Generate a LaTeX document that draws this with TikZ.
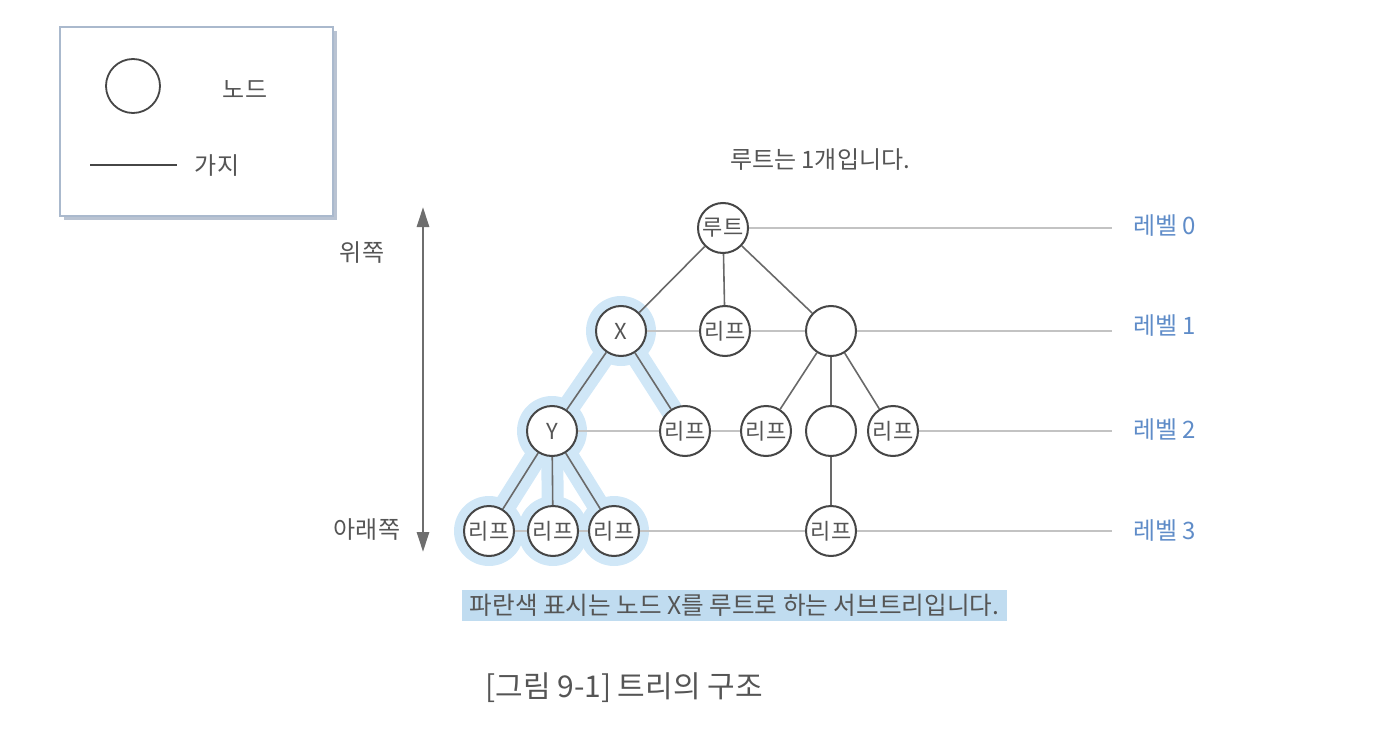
\documentclass[tikz,border=0pt]{standalone}
\usepackage{fontspec}
\setmainfont{Noto Sans CJK KR}
\usetikzlibrary{arrows.meta,calc,backgrounds}
\definecolor{txt}{RGB}{85,85,85}
\definecolor{nodeline}{RGB}{70,70,70}
\definecolor{edgec}{RGB}{105,105,105}
\definecolor{lvlc}{RGB}{195,195,195}
\definecolor{lvblue}{RGB}{95,140,200}
\definecolor{hlc}{RGB}{208,231,247}
\definecolor{capbg}{RGB}{192,220,240}
\definecolor{boxline}{RGB}{170,185,205}
\definecolor{boxshadow}{RGB}{185,195,210}
\definecolor{arrowc}{RGB}{110,110,110}
\begin{document}
\begin{tikzpicture}[x=0.5pt,y=-0.5pt,
  font=\fontsize{12}{14}\selectfont,
  tnode/.style={circle, draw=nodeline, line width=1pt, fill=white, minimum size=25pt, inner sep=0pt, text=txt, font=\fontsize{11}{13}\selectfont},
  treeedge/.style={draw=edgec, line width=0.8pt},
  lvlline/.style={draw=lvlc, line width=0.6pt},
  hlband/.style={draw=hlc, line width=11pt},
  lbl/.style={text=txt, inner sep=0pt},
  lvllbl/.style={text=lvblue, anchor=west, inner sep=0pt}]
\useasboundingbox (0,0) rectangle (1376,749);

% legend
\fill[boxshadow] (64,31) rectangle (337,220);
\filldraw[draw=boxline, fill=white, line width=1pt] (60,27) rectangle (333,216);
\node[circle, draw=nodeline, line width=0.9pt, minimum size=27pt, inner sep=0pt] (lgnode) at (133,86) {};
\node[lbl] (lgnodetxt) at (245,89) {노드};
\coordinate (lgA) at (90,165);
\coordinate (lgB) at (177,165);
\draw[draw=nodeline, line width=0.7pt] (lgA) -- (lgB);
\node[lbl] (lgedgetxt) at (217,166) {가지};

% tree nodes
\node[tnode] (R) at (723,228) {루트};
\node[tnode] (X) at (621,331) {X};
\node[tnode] (L1) at (725,331) {리프};
\node[tnode] (E1) at (831,331) {};
\node[tnode] (Y) at (552,431) {Y};
\node[tnode] (L2a) at (685,431) {리프};
\node[tnode] (L2b) at (766,431) {리프};
\node[tnode] (E2) at (831,431) {};
\node[tnode] (L2c) at (893,431) {리프};
\node[tnode] (L3a) at (489,531) {리프};
\node[tnode] (L3b) at (553,531) {리프};
\node[tnode] (L3c) at (614,531) {리프};
\node[tnode] (L3d) at (831,531) {리프};

% level line ends
\coordinate (lv0) at (1112,228);
\coordinate (lv1) at (1112,331);
\coordinate (lv2) at (1112,431);
\coordinate (lv3) at (1112,531);

% edges
\draw[treeedge] (R) -- (X);
\draw[treeedge] (R) -- (L1);
\draw[treeedge] (R) -- (E1);
\draw[treeedge] (X) -- (Y);
\draw[treeedge] (X) -- (L2a);
\draw[treeedge] (E1) -- (L2b);
\draw[treeedge] (E1) -- (E2);
\draw[treeedge] (E1) -- (L2c);
\draw[treeedge] (Y) -- (L3a);
\draw[treeedge] (Y) -- (L3b);
\draw[treeedge] (Y) -- (L3c);
\draw[treeedge] (E2) -- (L3d);

% level lines
\draw[lvlline] (R) -- (lv0);
\draw[lvlline] (X) -- (L1);
\draw[lvlline] (L1) -- (E1);
\draw[lvlline] (E1) -- (lv1);
\draw[lvlline] (Y) -- (L2a);
\draw[lvlline] (L2a) -- (L2b);
\draw[lvlline] (L2c) -- (lv2);
\draw[lvlline] (L3a) -- (L3b);
\draw[lvlline] (L3b) -- (L3c);
\draw[lvlline] (L3c) -- (L3d);
\draw[lvlline] (L3d) -- (lv3);

% subtree highlight
\begin{scope}[on background layer]
  \foreach \n in {X,Y,L3a,L3b,L3c} {\fill[hlc] (\n) circle (35);}
  \draw[hlband] (X.center) -- (Y.center);
  \draw[hlband] (Y.center) -- (L3a.center);
  \draw[hlband] (Y.center) -- (L3b.center);
  \draw[hlband] (Y.center) -- (L3c.center);
  \draw[hlband] (X.center) -- ($(X)!0.8!(L2a)$);
\end{scope}

% level labels
\node[lvllbl] (lb0) at (1133,226) {레벨 0};
\node[lvllbl] (lb1) at (1133,326) {레벨 1};
\node[lvllbl] (lb2) at (1133,430) {레벨 2};
\node[lvllbl] (lb3) at (1133,531) {레벨 3};

% vertical arrow
\coordinate (arT) at (423,207);
\coordinate (arB) at (423,552);
\draw[arrowc, line width=1.4pt, {Triangle[length=10pt,width=6pt]}-{Triangle[length=10pt,width=6pt]}] (arT) -- (arB);
\node[lbl] (up) at (362,253) {위쪽};
\node[lbl] (down) at (367,530) {아래쪽};

% texts
\node[lbl] (roottxt) at (820,160) {루트는 1개입니다.};
\node[fill=capbg, text=txt, minimum width=272.5pt, minimum height=15.5pt, inner sep=0pt, font=\fontsize{12.3}{14}\selectfont] (subtxt) at (734.5,605.5) {파란색 표시는 노드 X를 루트로 하는 서브트리입니다.};
\node[lbl, font=\fontsize{15}{17}\selectfont] (cap) at (624,688) {[그림 9-1] 트리의 구조};
\end{tikzpicture}
\end{document}
